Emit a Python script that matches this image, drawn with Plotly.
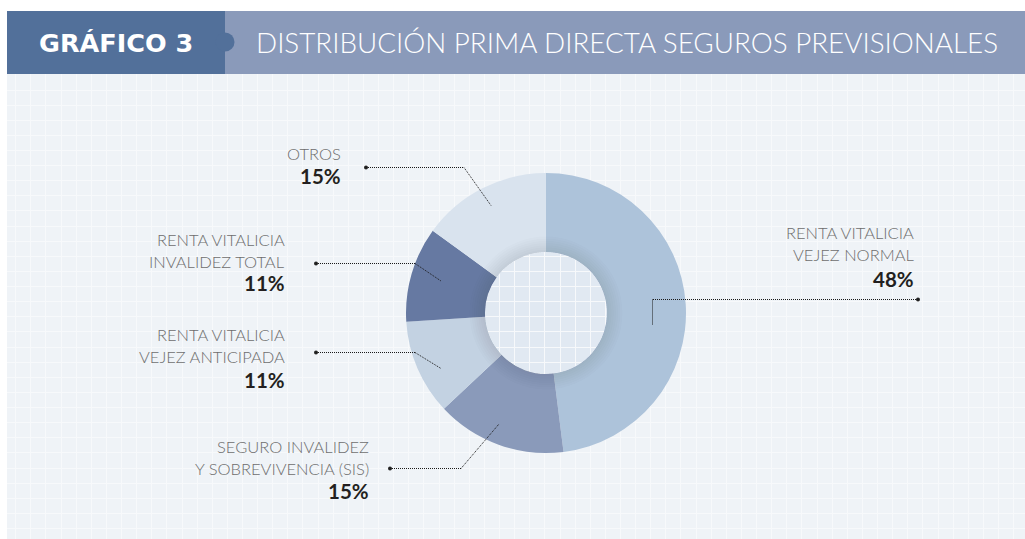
import plotly.graph_objects as go

# ---- data ----
categories = ["RENTA VITALICIA<br>VEJEZ NORMAL", "SEGURO INVALIDEZ<br>Y SOBREVIVENCIA (SIS)",
              "RENTA VITALICIA<br>VEJEZ ANTICIPADA", "RENTA VITALICIA<br>INVALIDEZ TOTAL", "OTROS"]
values = [48, 15, 11, 11, 15]
colors = ["#adc3da", "#8a9aba", "#c3d2e2", "#6679a2", "#d9e3ee"]
title_tag = "GRÁFICO 3"
title_text = "DISTRIBUCIÓN PRIMA DIRECTA SEGUROS PREVISIONALES"

W, H = 1025, 539
CX, CY, R, RH = 546, 313, 140, 61

def px(x):
    return x / W

def py(y):
    return 1 - y / H

# label layout: (right edge x, line y centres, pct y, leader points)
label_layout = [
    dict(x=916, ys=[233, 255], pcty=279, leader=[(918, 299.5), (652.5, 299.5), (652.5, 325)]),
    dict(x=371, ys=[447, 468.5], pcty=491, leader=[(390, 468.5), (461, 468.5), (499, 424)]),
    dict(x=287, ys=[335, 357], pcty=379.5, leader=[(316, 352.5), (415, 352.5), (441, 368.5)]),
    dict(x=287, ys=[240, 262], pcty=283, leader=[(316, 263.5), (415, 263.5), (441, 281)]),
    dict(x=343, ys=[154], pcty=176, leader=[(366, 167.5), (464, 167.5), (491, 205.5)]),
]

fig = go.Figure()

# invisible trace to show the grid axes
fig.add_trace(go.Scatter(x=[-100], y=[-100], mode="markers", marker=dict(opacity=0),
                         showlegend=False, hoverinfo="skip"))

# main donut
fig.add_trace(go.Pie(
    values=values, labels=[c.replace("<br>", " ") for c in categories],
    marker=dict(colors=colors, line=dict(width=0)),
    hole=RH / R, sort=False, direction="clockwise", rotation=0,
    textinfo="none", hoverinfo="label+percent", showlegend=False,
    domain=dict(x=[px(CX - R), px(CX + R)], y=[py(CY + R), py(CY - R)]),
))

# inner shadow rings (subtle)
for k in range(1, 8):
    r = RH + 2.2 * k
    fig.add_trace(go.Pie(
        values=[1], marker=dict(colors=["rgba(40,55,90,0.016)"], line=dict(width=0)),
        hole=RH / r, sort=False, textinfo="none", hoverinfo="skip", showlegend=False,
        domain=dict(x=[px(CX - r), px(CX + r)], y=[py(CY + r), py(CY - r)]),
    ))

shapes = []
# header
shapes.append(dict(type="rect", xref="paper", yref="paper", x0=px(7), x1=1, y0=py(74), y1=py(11),
                   fillcolor="#8a9aba", line=dict(width=0), layer="above"))
shapes.append(dict(type="rect", xref="paper", yref="paper", x0=px(7), x1=px(225), y0=py(74), y1=py(11),
                   fillcolor="#52709a", line=dict(width=0), layer="above"))
shapes.append(dict(type="circle", xref="paper", yref="paper", x0=px(215.5), x1=px(234.5),
                   y0=py(51.5), y1=py(32.5), fillcolor="#52709a", line=dict(width=0), layer="above"))
# hole tint
shapes.append(dict(type="circle", xref="x", yref="y", x0=CX - RH, x1=CX + RH, y0=CY - RH, y1=CY + RH,
                   fillcolor="rgba(205,218,236,0.4)", line=dict(width=0), layer="below"))

dots_x, dots_y = [], []
annotations = []
for cat, v, lay in zip(categories, values, label_layout):
    pts = lay["leader"]
    for (x0, y0), (x1, y1) in zip(pts[:-1], pts[1:]):
        shapes.append(dict(type="line", xref="x", yref="y", x0=x0, y0=y0, x1=x1, y1=y1,
                           line=dict(color="#1a1a1a", width=1, dash="1px,1px"), layer="above"))
    dots_x += [pts[0][0], pts[-1][0]]
    dots_y += [pts[0][1], pts[-1][1]]
    for line, yy in zip(cat.split("<br>"), lay["ys"]):
        annotations.append(dict(x=lay["x"], y=yy, xref="x", yref="y", text=line, showarrow=False,
                                xanchor="right", yanchor="middle",
                                font=dict(family="Lato", size=16.5, color="#6e6e6e", weight=300)))
    annotations.append(dict(x=lay["x"], y=lay["pcty"], xref="x", yref="y", text=f"{v}%", showarrow=False,
                            xanchor="right", yanchor="middle",
                            font=dict(family="Lato", size=20.5, color="#231f20", weight=700)))

fig.add_trace(go.Scatter(x=dots_x, y=dots_y, mode="markers", marker=dict(size=4, color="#222"),
                         showlegend=False, hoverinfo="skip"))

annotations.append(dict(x=px(116), y=py(43), xref="paper", yref="paper", text=f"<b>{title_tag}</b>",
                        showarrow=False, xanchor="center", yanchor="middle",
                        font=dict(family="DejaVu Sans", size=25.5, color="white")))
annotations.append(dict(x=px(254), y=py(43), xref="paper", yref="paper", text=title_text,
                        showarrow=False, xanchor="left", yanchor="middle",
                        font=dict(family="Lato", size=27.8, color="white", weight=300)))

fig.update_layout(
    width=W, height=H, margin=dict(l=0, r=0, t=0, b=0),
    paper_bgcolor="white", plot_bgcolor="#eff3f7",
    xaxis=dict(domain=[px(7), 1], range=[7, W], showgrid=True, gridcolor="#f7f9fb", gridwidth=1,
               tick0=15.7, dtick=15.12, showticklabels=False, zeroline=False, ticks="",
               fixedrange=True),
    yaxis=dict(domain=[0, py(74)], range=[H, 74], showgrid=True, gridcolor="#f7f9fb", gridwidth=1,
               tick0=90, dtick=15.12, showticklabels=False, zeroline=False, ticks="",
               fixedrange=True),
    shapes=shapes, annotations=annotations,
)

fig.write_html("out.html", config={"displayModeBar": False},
               post_script="document.body.style.margin='0';document.body.style.overflow='hidden';")
